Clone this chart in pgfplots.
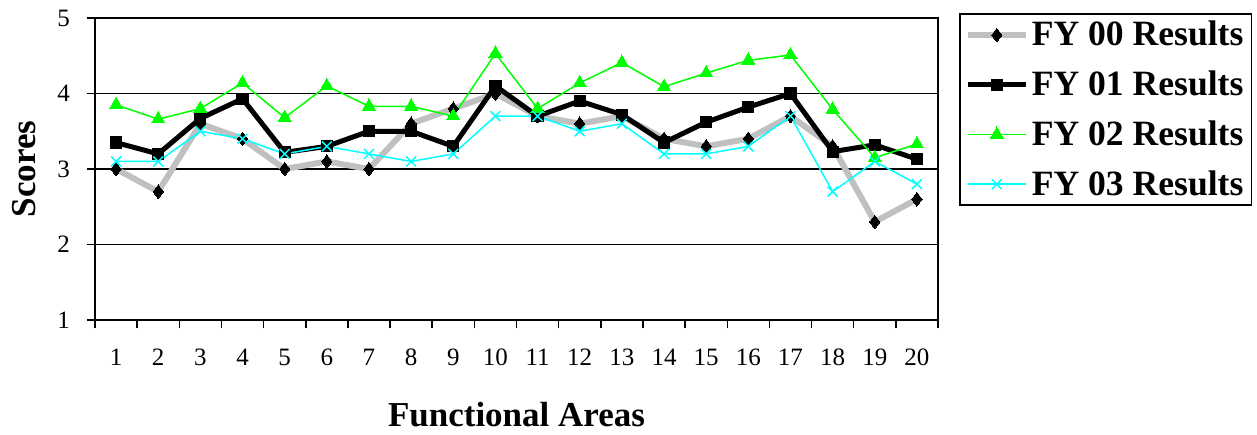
\documentclass[border=0pt]{standalone}
\usepackage{fontspec}
\setmainfont{Liberation Serif}
\usepackage{pgfplots}
\pgfplotsset{compat=1.18}
\definecolor{fygray}{RGB}{192,192,192}
\definecolor{fygreen}{RGB}{0,255,0}
\definecolor{fycyan}{RGB}{0,255,255}
\begin{document}
\begin{tikzpicture}
\begin{axis}[
  scale only axis,
  width=421.5pt, height=151pt,
  xmin=0.5, xmax=20.5, ymin=1, ymax=5,
  xtick={0.5,1.5,...,20.5},
  xticklabels={1,2,3,4,5,6,7,8,9,10,11,12,13,14,15,16,17,18,19,20,{}},
  ytick={1,2,3,4,5},
  ymajorgrids,
  major grid style={black, line width=0.75pt},
  axis line style={black, line width=0.75pt},
  tick style={black, line width=0.75pt},
  tick align=outside,
  xtick pos=bottom, ytick pos=left,
  major tick length=4pt,
  /pgf/number format/assume math mode=true,
  ticklabel style={font=\fontsize{12.5pt}{14pt}\selectfont},
  xticklabel style={xshift=10.54pt, yshift=-7pt},
  yticklabel style={xshift=-5pt},
  xlabel={\textbf{Functional Areas}},
  ylabel={\textbf{Scores}},
  label style={font=\fontsize{17.5pt}{20pt}\selectfont},
  xlabel style={at={(axis description cs:0.5,0)}, anchor=center, yshift=-47.5pt},
  ylabel style={at={(axis description cs:0,0.5)}, anchor=center, yshift=35.3pt},
  legend style={at={(1.025,1.015)}, anchor=north west, draw=black, line width=0.75pt,
    font=\bfseries\fontsize{17.8pt}{20pt}\selectfont,
    inner xsep=2.5pt, inner ysep=2pt, row sep=8pt,
    nodes={inner sep=1.5pt}},
  legend cell align=left,
  legend image code/.code={\draw[mark repeat=2,mark phase=2,#1] plot coordinates {(0pt,0pt)(14.5pt,0pt)(29pt,0pt)};},
]
\addplot[color=fygray, line width=3pt, mark=diamond*, mark size=3.4pt,
  mark options={fill=black, draw=black, line width=0pt}]
coordinates {(1,3.0)(2,2.7)(3,3.6)(4,3.4)(5,3.0)(6,3.1)(7,3.0)(8,3.6)(9,3.8)(10,4.0)
(11,3.7)(12,3.6)(13,3.7)(14,3.4)(15,3.3)(16,3.4)(17,3.7)(18,3.3)(19,2.3)(20,2.6)};
\addlegendentry{FY 00 Results}
\addplot[color=black, line width=2.5pt, mark=square*, mark size=2.8pt,
  mark options={line width=0pt}]
coordinates {(1,3.35)(2,3.2)(3,3.67)(4,3.93)(5,3.22)(6,3.3)(7,3.5)(8,3.5)(9,3.3)(10,4.1)
(11,3.7)(12,3.9)(13,3.72)(14,3.35)(15,3.62)(16,3.82)(17,4.0)(18,3.23)(19,3.32)(20,3.13)};
\addlegendentry{FY 01 Results}
\addplot[color=fygreen, line width=0.75pt, mark=triangle*, mark size=3.8pt,
  mark options={line width=0pt}]
coordinates {(1,3.85)(2,3.66)(3,3.8)(4,4.14)(5,3.68)(6,4.1)(7,3.83)(8,3.83)(9,3.7)(10,4.53)
(11,3.8)(12,4.14)(13,4.41)(14,4.09)(15,4.27)(16,4.44)(17,4.51)(18,3.79)(19,3.15)(20,3.33)};
\addlegendentry{FY 02 Results}
\addplot[color=fycyan, line width=0.75pt, mark=x, mark size=3.5pt]
coordinates {(1,3.1)(2,3.1)(3,3.5)(4,3.4)(5,3.2)(6,3.3)(7,3.2)(8,3.1)(9,3.2)(10,3.7)
(11,3.7)(12,3.5)(13,3.6)(14,3.2)(15,3.2)(16,3.3)(17,3.7)(18,2.7)(19,3.1)(20,2.8)};
\addlegendentry{FY 03 Results}
\coordinate (ll) at (rel axis cs:0,0);
\end{axis}
\path (ll) ++(-47.5pt,-54.5pt) rectangle ++(628.5pt,214.5pt);
\end{tikzpicture}
\end{document}
